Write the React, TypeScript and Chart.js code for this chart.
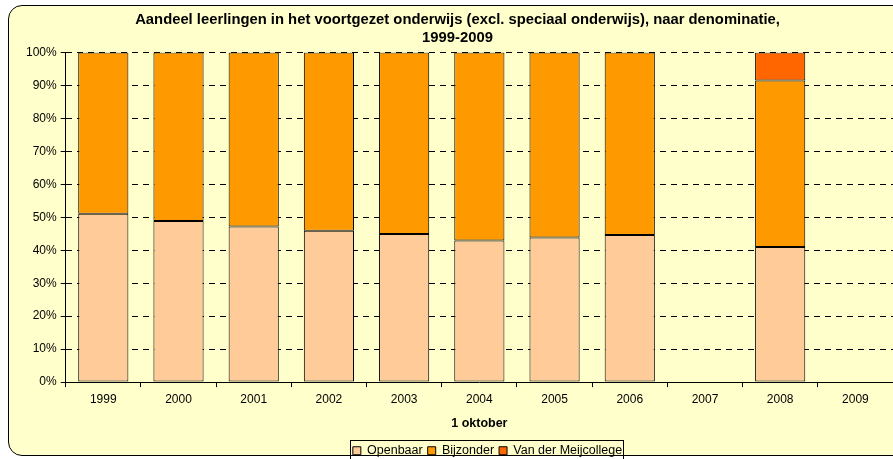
import React, { useEffect, useRef } from "react";
import { Chart, registerables } from "chart.js";

Chart.register(...registerables);

const years = ["1999", "2000", "2001", "2002", "2003", "2004", "2005", "2006", "2007", "2008", "2009"];
const openbaar = [51.1, 48.9, 47.2, 45.9, 44.9, 43.0, 43.9, 44.6, null, 41.0, null];
const bijzonder = [48.9, 51.1, 52.8, 54.1, 55.1, 57.0, 56.1, 55.4, null, 50.5, null];
const vanDerMeij = [null, null, null, null, null, null, null, null, null, 8.5, null];
const seriesNames = ["Openbaar", "Bijzonder", "Van der Meijcollege"];
const titleLines = [
  "Aandeel leerlingen in het voortgezet onderwijs (excl. speciaal onderwijs), naar denominatie,",
  "1999-2009",
];
const xTitle = "1 oktober";

const FONT = "'Liberation Sans', Arial, sans-serif";

const legendShift = {
  id: "legendShift",
  afterLayout(chart: any) {
    const lg = chart.legend;
    if (!lg) return;
    lg.left += 30;
    lg.right += 30;
  },
};

const legendBorder = {
  id: "legendBorder",
  afterDraw(chart: any) {
    const lg = chart.legend;
    if (!lg || !lg.legendHitBoxes || !lg.legendHitBoxes.length) return;
    const boxes = lg.legendHitBoxes;
    let l = Infinity, r = -Infinity, t = Infinity;
    boxes.forEach((h: any) => {
      l = Math.min(l, h.left);
      r = Math.max(r, h.left + h.width);
      t = Math.min(t, h.top);
    });
    const ctx = chart.ctx;
    ctx.save();
    ctx.strokeStyle = "#000";
    ctx.lineWidth = 1;
    ctx.strokeRect(Math.round(l - 3) + 0.5, Math.round(t - 4) + 0.5, Math.round(r - l + 4), 30);
    ctx.restore();
  },
};

export default function App() {
  const ref = useRef<HTMLCanvasElement>(null);
  useEffect(() => {
    if (!ref.current) return;
    const chart = new Chart(ref.current, {
      type: "bar",
      data: {
        labels: years,
        datasets: [
          { label: seriesNames[0], data: openbaar, backgroundColor: "#FFCC99", borderColor: "#000", borderWidth: 1, borderSkipped: false },
          { label: seriesNames[1], data: bijzonder, backgroundColor: "#FF9900", borderColor: "#000", borderWidth: 1, borderSkipped: false },
          { label: seriesNames[2], data: vanDerMeij, backgroundColor: "#FF6600", borderColor: "#000", borderWidth: 1, borderSkipped: false },
        ],
      },
      options: {
        animation: false,
        responsive: false,
        maintainAspectRatio: false,
        layout: { padding: { top: 7, left: 22, right: 0, bottom: -8 } },
        datasets: { bar: { barPercentage: 0.667, categoryPercentage: 1 } },
        plugins: {
          title: {
            display: true,
            text: titleLines,
            color: "#000",
            font: { family: FONT, size: 14.8, weight: "bold", lineHeight: 1.2 },
            padding: { top: 4, bottom: 6 },
          },
          legend: {
            position: "bottom",
            labels: {
              color: "#000",
              boxWidth: 8,
              boxHeight: 8,
              padding: 5,
              font: { family: FONT, size: 12.5 },
            },
          },
          tooltip: { enabled: false },
        },
        scales: {
          x: {
            stacked: true,
            offset: true,
            grid: { display: true, drawOnChartArea: false, drawTicks: true, tickLength: 5, color: "#000", offset: true },
            border: { display: true, color: "#000", width: 1 },
            ticks: { color: "#000", font: { family: FONT, size: 12 }, padding: 5 },
            title: { display: true, text: xTitle, color: "#000", font: { family: FONT, size: 12.5, weight: "bold" }, padding: { top: 5, bottom: 8 } },
          },
          y: {
            stacked: true,
            min: 0,
            max: 100,
            grid: { color: "#000", lineWidth: 1, tickLength: 5, drawTicks: true, tickBorderDash: [] },
            border: { display: true, color: "#000", width: 1, dash: [6, 5] },
            ticks: {
              stepSize: 10,
              color: "#000",
              padding: 4,
              font: { family: FONT, size: 12 },
              callback: (v: any) => v + "%",
            },
          },
        },
      },
      plugins: [legendShift, legendBorder],
    } as any);
    return () => chart.destroy();
  }, []);
  return (
    <div style={{ position: "fixed", left: 0, top: 0, width: 893, height: 459, overflow: "hidden", background: "#fff" }}>
      <div
        style={{
          position: "absolute",
          left: 8,
          top: 5,
          width: 905,
          height: 451,
          border: "1.5px solid #000",
          borderRadius: 14,
          background: "#FFFFCC",
          boxSizing: "border-box",
        }}
      />
      <canvas ref={ref} width={893} height={459} style={{ position: "absolute", left: 0, top: 0, width: 893, height: 459 }} />
    </div>
  );
}
